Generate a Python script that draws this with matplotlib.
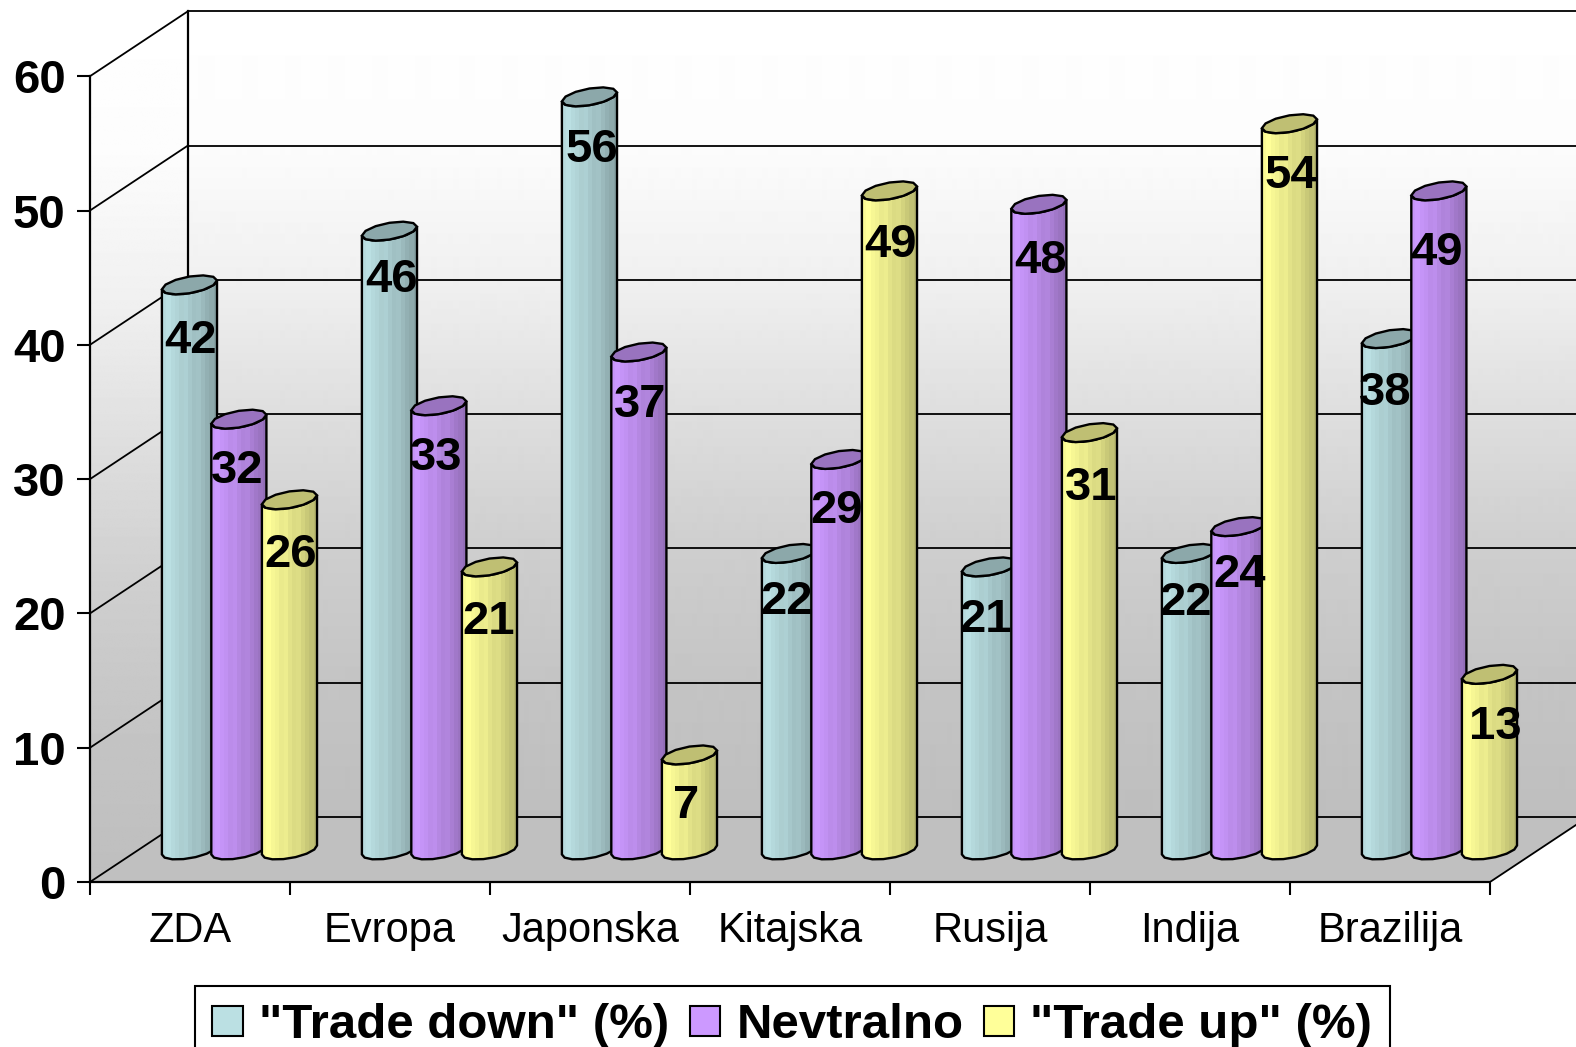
"""3D style cylinder chart of trade down / trade up shares per region."""

import matplotlib.pyplot as plt
import numpy as np
from matplotlib.patches import Patch, Polygon

regions = ["ZDA", "Evropa", "Japonska", "Kitajska", "Rusija", "Indija", "Brazilija"]
trade_down = [42, 46, 56, 22, 21, 22, 38]
neutral = [32, 33, 37, 29, 48, 24, 49]
trade_up = [26, 21, 7, 49, 31, 54, 13]
series_names = ['"Trade down" (%)', "Nevtralno", '"Trade up" (%)']
value_ticks = [0, 10, 20, 30, 40, 50, 60]

WIDTH, HEIGHT = 1576, 1047
LEFT, BOTTOM = 90, 882
CAT_PX, UNIT_PX = 200, 13.43
DEPTH_X, DEPTH_Y = 98 / CAT_PX, 65 / UNIT_PX
BAR_DEPTH = 0.47
BASE_LIFT = 1.5 / UNIT_PX
TOP_LIFT = 1.0 / UNIT_PX
OFFSETS = [0.267, 0.514, 0.767]
RADIUS = 24.3 / CAT_PX
SKEW_X, SKEW_Y = 13.0 / CAT_PX, 9.5 / UNIT_PX
COLORS = ["#BBE0E3", "#CC99FF", "#FFFF99"]
SHADES = [0.98, 1.0, 0.97, 0.95, 0.92, 0.93, 0.89, 0.86, 0.87, 0.83, 0.79, 0.76, 0.72]
WALL_STOPS = [0, 134, 268, 403, 538, 672, 806]
WALL_GREYS = [0xFF, 0xFC, 0xF0, 0xDE, 0xCE, 0xC4, 0xBE]

# label nudges in pixels, one row per series
LABEL_DX = [[1, 2, 2, -3, -4, -4, -4], [-2, -3, 1, -2, 2, 1, -2], [1, -1, -3, 1, 2, 1, 6]]
LABEL_DY = [[0, -7, -3, -7, -3, -6, -1], [-4, -4, -3, -4, 1, -7, 6], [-1, -1, -5, -2, 0, -4, -3]]

plt.rcParams["font.family"] = ["Liberation Sans", "DejaVu Sans"]


def ring(cx, cy, start, stop, n):
    """Points of a skewed circle lying on the floor plane, seen in projection."""
    t = np.linspace(start, stop, n)
    x = cx + RADIUS * np.cos(t) + SKEW_X * np.sin(t)
    y = cy + SKEW_Y * np.sin(t)
    return np.column_stack([x, y])


def draw_gradient(ax, extent, clip=None):
    """Paint the white to grey wall shading, optionally clipped to a polygon."""
    ramp = np.interp(np.arange(806), WALL_STOPS, WALL_GREYS).reshape(-1, 1) / 255
    im = ax.imshow(ramp, extent=extent, origin="upper", aspect="auto", cmap="gray",
                   vmin=0, vmax=1, zorder=0, interpolation="bilinear")
    if clip is not None:
        patch = Polygon(clip, closed=True, facecolor="none", edgecolor="none",
                        transform=ax.transData)
        ax.add_patch(patch)
        im.set_clip_path(patch)


def draw_cylinder(ax, cx, value, color, z):
    """Draw one cylinder: shaded body, outline and darker top cap."""
    base = np.array(plt.matplotlib.colors.to_rgb(color))
    silhouette = np.arctan2(SKEW_X, RADIUS)
    half = np.hypot(RADIUS, SKEW_X)
    floor_y = BAR_DEPTH * DEPTH_Y + BASE_LIFT
    top_y = value + BAR_DEPTH * DEPTH_Y + BASE_LIFT + TOP_LIFT

    front_top = ring(cx, top_y, silhouette + np.pi, silhouette + 2 * np.pi, 8)
    front_bottom = ring(cx, floor_y, silhouette + np.pi, silhouette + 2 * np.pi, 8)
    outline = np.vstack([front_bottom, front_top[::-1]])

    strip = np.array([[base * s for s in SHADES]])
    body = Polygon(outline, closed=True, facecolor="none", edgecolor="black",
                   linewidth=1.7, zorder=z + 0.2)
    ax.add_patch(body)
    im = ax.imshow(strip, extent=(cx - half, cx + half, 0, top_y + 1), aspect="auto",
                   interpolation="nearest", zorder=z)
    im.set_clip_path(body)

    cap = ring(cx, top_y, silhouette, silhouette + 2 * np.pi, 13)
    ax.add_patch(Polygon(cap, closed=True, facecolor=base * 0.75, edgecolor="black",
                         linewidth=1.7, zorder=z + 0.3))


fig = plt.figure(figsize=(WIDTH / 100, HEIGHT / 100), dpi=100)
ax = fig.add_axes([LEFT / WIDTH, (HEIGHT - BOTTOM) / HEIGHT,
                   (WIDTH - LEFT) / WIDTH, BOTTOM / HEIGHT])
ax.patch.set_alpha(0)
x_max = (WIDTH - LEFT) / CAT_PX
y_max = BOTTOM / UNIT_PX
n_cat = len(regions)
top = value_ticks[-1]

# back wall, side wall and floor
draw_gradient(ax, (DEPTH_X, x_max, DEPTH_Y, top + DEPTH_Y))
side = [(0, 0), (0, top), (DEPTH_X, top + DEPTH_Y), (DEPTH_X, DEPTH_Y)]
draw_gradient(ax, (0, DEPTH_X, 0, top + DEPTH_Y), clip=side)
floor = [(0, 0), (n_cat, 0), (n_cat + DEPTH_X, DEPTH_Y), (DEPTH_X, DEPTH_Y)]
ax.add_patch(Polygon(floor, closed=True, facecolor="#C0C0C0", edgecolor="none", zorder=0.5))

ax.set_xlim(0, x_max)
ax.set_ylim(0, y_max)
ax.set_autoscale_on(False)

# gridlines run along the back wall and across the side wall
for v in value_ticks:
    ax.plot([DEPTH_X, x_max], [v + DEPTH_Y] * 2, color="black", lw=1.3, zorder=0.7)
    ax.plot([0, DEPTH_X], [v, v + DEPTH_Y], color="black", lw=1.3, zorder=0.7)
ax.plot([DEPTH_X, DEPTH_X], [DEPTH_Y, top + DEPTH_Y], color="black", lw=1.6, zorder=0.7)
ax.plot([n_cat, n_cat + DEPTH_X], [0, DEPTH_Y], color="black", lw=1.3, zorder=0.7)

all_series = [trade_down, neutral, trade_up]
z = 1
for i in range(n_cat):
    for s, (values, color, off) in enumerate(zip(all_series, COLORS, OFFSETS)):
        cx = i + off + BAR_DEPTH * DEPTH_X
        draw_cylinder(ax, cx, values[i], color, z)
        ax.text(cx + LABEL_DX[s][i] / CAT_PX,
                values[i] + BAR_DEPTH * DEPTH_Y - 3.6 - LABEL_DY[s][i] / UNIT_PX,
                str(values[i]), ha="center", va="center_baseline", fontsize=34,
                fontweight="bold", color="black", zorder=100)
        z += 1

for name in ["top", "right"]:
    ax.spines[name].set_visible(False)
ax.spines["left"].set_bounds(0, top)
ax.spines["bottom"].set_bounds(0, n_cat)
for name in ["left", "bottom"]:
    ax.spines[name].set_linewidth(1.6)
    ax.spines[name].set_zorder(0.8)

ax.set_yticks(value_ticks)
ax.set_yticklabels([str(v) for v in value_ticks], fontsize=34, fontweight="bold")
ax.tick_params(axis="y", length=9.5, width=1.5, pad=8)
ax.set_xticks(range(n_cat + 1))
ax.set_xticklabels([])
ax.tick_params(axis="x", which="major", length=9.5, width=1.5)
ax.set_xticks(np.arange(n_cat) + 0.5, minor=True)
ax.set_xticklabels(regions, minor=True, fontsize=30)
ax.tick_params(axis="x", which="minor", length=0, pad=21)

handles = [Patch(facecolor=c, edgecolor="black", linewidth=1.5) for c in COLORS]
leg = ax.legend(handles, series_names, ncol=3, loc="upper left",
                bbox_to_anchor=(195 / WIDTH, (HEIGHT - 986) / HEIGHT),
                bbox_transform=fig.transFigure, borderaxespad=0, fancybox=False,
                framealpha=1, edgecolor="black",
                prop={"size": 35.5, "weight": "bold"}, handlelength=0.62, handleheight=0.55,
                handletextpad=0.33, columnspacing=0.41, borderpad=0.35)
leg.get_frame().set_linewidth(1.5)

fig.savefig("out.png", dpi=100)
